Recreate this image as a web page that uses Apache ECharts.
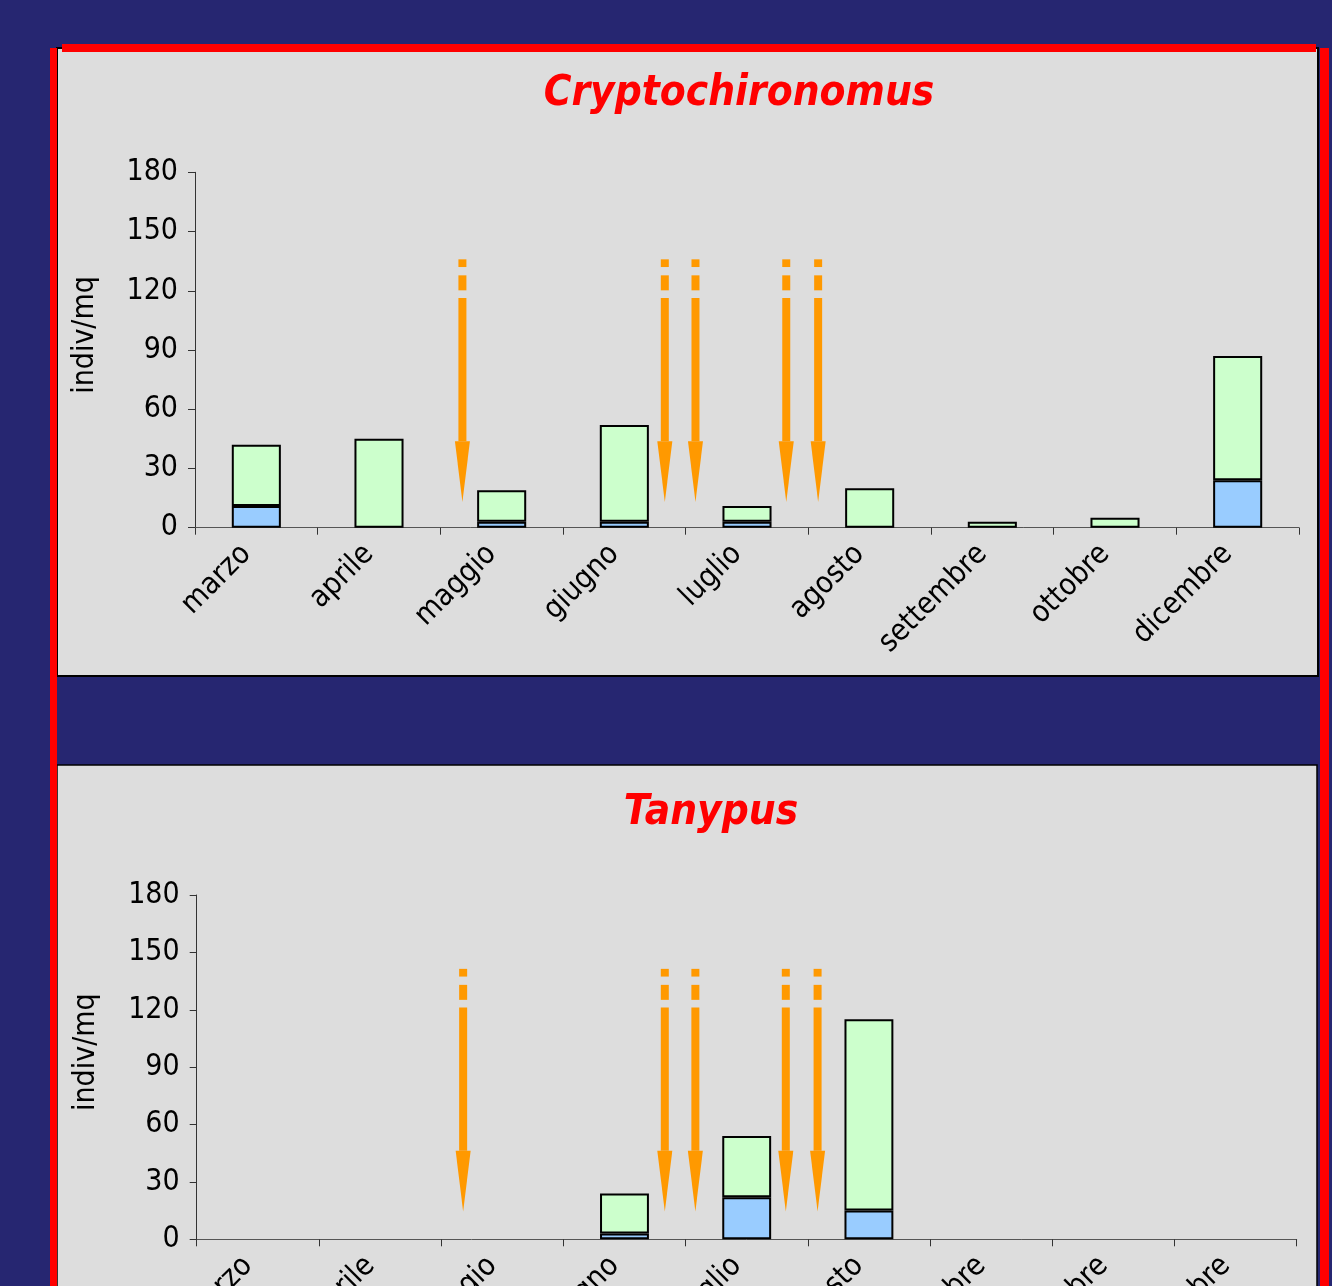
<!DOCTYPE html>
<html><head><meta charset="utf-8">
<script src="https://cdn.jsdelivr.net/npm/echarts@6/dist/echarts.min.js"></script>
<style>html,body{margin:0;padding:0;background:#262671;}#c{width:1332px;height:1286px;}</style>
</head><body><div id="c"></div>
<script>
// ---- data ----
const months = ['marzo','aprile','maggio','giugno','luglio','agosto','settembre','ottobre','dicembre'];
const cryptoBlue  = [11, 0, 3, 3, 3, 0, 0, 0, 24];
const cryptoGreen = [31, 45, 16, 49, 8, 20, 3, 5, 63];
const tanyBlue    = [0, 0, 0, 3, 22, 15, 0, 0, 0];
const tanyGreen   = [0, 0, 0, 21, 32, 100, 0, 0, 0];
const yMin = 0, yMax = 180, yStep = 30;
const arrowPos = [2.18, 3.83, 4.08, 4.82, 5.08];   // position along the month axis (category units)
const cryptoArrowTip = 13;
const tanyArrowTip = 14.5;
const titles = ['Cryptochironomus', 'Tanypus'];
const yName = 'indiv/mq';

// ---- chart ----
const FONT = '"DejaVu Sans Condensed", "DejaVu Sans", sans-serif';
const NAVY = '#262671', PANEL = '#dddddd', RED = '#ff0000';
const GREEN = '#ccffcc', BLUE = '#99ccff', ORANGE = '#ff9900';
const nz = a => a.map(v => v === 0 ? null : v);

function arrowItem(params, api) {
  const p = api.coord([api.value(0), api.value(1)]);
  const x = p[0], y = p[1], sw = 8, hw = 7.5;
  return { type: 'group', children: [
    { type: 'rect', shape: { x: x - sw/2, y: y - 242.7, width: sw, height: 7.7 }, style: { fill: ORANGE } },
    { type: 'rect', shape: { x: x - sw/2, y: y - 226.7, width: sw, height: 15 }, style: { fill: ORANGE } },
    { type: 'rect', shape: { x: x - sw/2, y: y - 204, width: sw, height: 204 - 60.7 }, style: { fill: ORANGE } },
    { type: 'polygon', shape: { points: [[x - hw, y - 60.7], [x + hw, y - 60.7], [x, y]] }, style: { fill: ORANGE } }
  ]};
}

function yAxis(gi) {
  return {
    gridIndex: gi, type: 'value', min: yMin, max: yMax, interval: yStep,
    axisLine: { show: true, lineStyle: { color: '#333', width: 1 } },
    axisTick: { show: true, length: 7, lineStyle: { color: '#333' } },
    splitLine: { show: false },
    axisLabel: { fontFamily: FONT, fontSize: 30, color: '#000', margin: 17, padding: [5, 0, 0, 0] },
    name: yName, nameLocation: 'middle', nameGap: 95,
    nameTextStyle: { fontFamily: FONT, fontSize: 30, color: '#000', padding: [0, 0, 0, 30] }
  };
}
function xCat(gi) {
  return {
    gridIndex: gi, type: 'category', data: months,
    axisLine: { show: true, lineStyle: { color: '#555', width: 1 } },
    axisTick: { show: true, length: 7, interval: 0, lineStyle: { color: '#333' } },
    axisLabel: { interval: 0, rotate: 45, margin: 12, padding: [0, 14, 0, 0], fontFamily: FONT, fontSize: 30, color: '#000' }
  };
}
function xVal(gi) {
  return { gridIndex: gi, type: 'value', min: 0, max: months.length, show: false };
}
function bars(blue, green, xi, yi, stack) {
  const common = { type: 'bar', stack: stack, xAxisIndex: xi, yAxisIndex: yi, barWidth: '40%' };
  return [
    Object.assign({}, common, { name: 'b' + stack, data: nz(blue), itemStyle: { color: BLUE, borderColor: '#000', borderWidth: 2 } }),
    Object.assign({}, common, { name: 'g' + stack, data: nz(green), itemStyle: { color: GREEN, borderColor: '#000', borderWidth: 2 } })
  ];
}

const chart = echarts.init(document.getElementById('c'));
chart.setOption({
  backgroundColor: NAVY,
  animation: false,
  graphic: [
    { type: 'rect', z: -10, shape: { x: 57, y: 48, width: 1261, height: 628 }, style: { fill: PANEL, stroke: '#000', lineWidth: 2 } },
    { type: 'rect', z: -10, shape: { x: 57, y: 765, width: 1260, height: 600 }, style: { fill: PANEL, stroke: '#000', lineWidth: 1.5 } },
    { type: 'rect', z: -9, shape: { x: 50, y: 48, width: 7, height: 1300 }, style: { fill: RED } },
    { type: 'rect', z: -9, shape: { x: 62, y: 44, width: 1254, height: 8 }, style: { fill: RED } },
    { type: 'rect', z: -9, shape: { x: 1320, y: 48, width: 9, height: 1300 }, style: { fill: RED } }
  ],
  title: [
    { text: titles[0], left: 739, top: 73, textAlign: 'center', padding: 0,
      textStyle: { fontFamily: FONT, fontSize: 42, fontWeight: 'bold', fontStyle: 'italic', color: RED } },
    { text: titles[1], left: 711, top: 792, textAlign: 'center', padding: 0,
      textStyle: { fontFamily: FONT, fontSize: 42, fontWeight: 'bold', fontStyle: 'italic', color: RED } }
  ],
  grid: [
    { left: 195, right: 33, top: 172.3, height: 355.4, containLabel: false, outerBoundsMode: 'none' },
    { left: 196.7, right: 35.3, top: 895, height: 344.3, containLabel: false, outerBoundsMode: 'none' }
  ],
  xAxis: [xCat(0), xVal(0), xCat(1), xVal(1)],
  yAxis: [yAxis(0), yAxis(1)],
  series: [
    ...bars(cryptoBlue, cryptoGreen, 0, 0, 'c1'),
    ...bars(tanyBlue, tanyGreen, 2, 1, 'c2'),
    { type: 'custom', xAxisIndex: 1, yAxisIndex: 0, renderItem: arrowItem,
      data: arrowPos.map(p => [p, cryptoArrowTip]), encode: { x: 0, y: 1 } },
    { type: 'custom', xAxisIndex: 3, yAxisIndex: 1, renderItem: arrowItem,
      data: arrowPos.map(p => [p, tanyArrowTip]), encode: { x: 0, y: 1 } }
  ]
});
</script></body></html>
